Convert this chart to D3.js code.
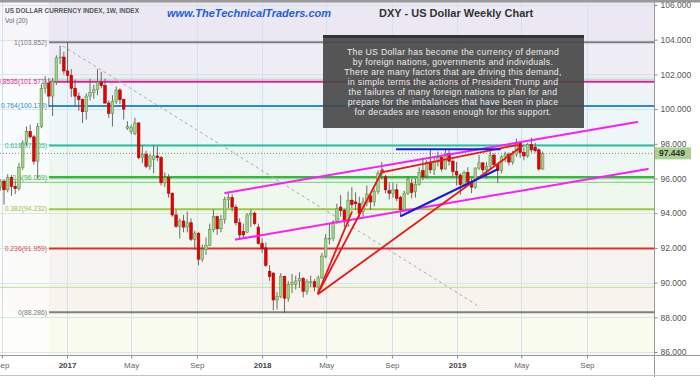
<!DOCTYPE html>
<html>
<head>
<meta charset="utf-8">
<script src="https://cdn.jsdelivr.net/npm/d3@7"></script>
<style>
  body { margin: 0; background: #fff; }
  svg { display: block; font-family: "Liberation Sans", Arial, sans-serif; }
</style>
</head>
<body>
<svg id="chart" width="700" height="377"></svg>
<script>
// ---- data ----
var firstWeek = "2016-08-29";   // weekly bars, one per Monday

var open = [95.50,95.85,95.35,96.05,95.55,95.42,96.65,98.05,98.70,98.40,
  97.00,99.00,101.20,101.50,100.75,101.60,102.95,103.00,102.20,101.95,
  101.20,100.75,100.55,99.85,100.75,100.95,101.12,101.55,101.35,100.35,
  99.75,100.45,101.10,100.55,98.90,98.70,98.60,99.20,97.20,97.40,
  96.70,97.10,97.30,97.20,95.75,96.05,95.15,93.90,93.25,93.55,
  93.20,93.45,92.50,92.85,91.35,91.90,92.15,93.05,93.80,93.10,
  93.65,94.80,94.90,94.35,93.45,92.95,92.90,93.90,94.00,93.20,
  92.25,92.00,90.65,90.55,89.00,89.20,90.35,89.10,89.90,89.90,
  90.10,90.25,89.50,90.00,90.05,89.75,90.27,91.50,92.55,92.55,
  93.55,94.35,94.15,93.55,94.75,94.65,94.55,94.10,94.60,95.00,
  94.65,95.25,96.30,96.10,95.30,95.15,95.35,94.90,94.20,95.15,
  95.70,95.25,95.65,96.45,96.15,96.95,96.50,96.95,97.20,96.55,
  97.45,97.00,96.40,96.20,95.65,96.35,95.80,95.50,96.60,96.90,
  96.50,96.70,97.35,96.80,96.45,97.25,97.40,96.95,97.40,98.05,
  97.50,97.30,97.95,97.80,97.65,96.55];

var high = [95.95,95.95,96.25,96.20,95.90,96.90,98.20,99.00,99.10,98.50,
  99.20,101.45,101.90,101.80,101.80,103.10,103.65,103.30,103.85,102.30,
  101.70,100.95,100.60,100.90,101.75,101.40,102.30,102.15,101.75,100.50,
  100.80,101.30,101.20,100.60,99.30,99.10,99.50,99.25,97.90,97.60,
  97.40,97.90,97.85,97.30,96.35,96.25,95.20,94.20,93.70,93.90,
  94.10,93.70,93.00,92.90,92.20,92.60,93.40,94.20,93.85,93.90,
  94.95,95.15,95.10,94.50,93.70,93.40,94.00,94.20,94.10,93.40,
  92.55,92.30,91.00,90.60,89.45,90.55,90.40,90.10,90.50,90.40,
  90.60,90.30,90.20,90.40,90.20,90.40,91.70,92.80,93.40,93.60,
  94.55,95.05,94.25,95.25,95.50,95.20,94.95,94.90,95.60,95.10,
  95.40,96.45,96.95,96.20,95.75,95.75,95.70,95.00,95.30,96.15,
  96.00,96.00,96.65,97.20,97.05,97.70,97.20,97.55,97.35,97.70,
  97.65,97.10,96.95,96.30,96.45,96.65,96.00,96.65,97.35,96.95,
  96.95,97.70,97.45,96.90,97.35,97.55,97.50,97.60,98.30,98.10,
  97.80,98.05,98.35,98.05,97.75,97.55];

var low = [95.30,94.50,95.20,95.00,95.10,95.30,96.50,97.90,98.30,96.80,
  96.00,98.90,100.90,100.10,99.60,101.40,102.60,102.00,101.50,100.70,
  100.20,99.90,99.20,99.40,100.50,100.60,100.80,101.20,100.30,99.50,
  99.00,100.30,100.30,99.40,98.80,98.55,98.50,97.10,96.90,96.60,
  96.50,96.30,97.00,95.60,95.50,94.90,93.80,93.15,92.55,92.90,
  92.90,92.40,91.90,91.00,91.20,91.60,92.10,92.90,92.75,92.90,
  93.40,94.30,94.10,93.30,92.50,92.60,92.85,93.20,93.30,92.20,
  91.70,90.90,90.10,88.40,88.45,89.10,88.25,88.90,89.40,89.60,
  89.70,89.15,89.30,89.75,89.50,89.40,90.20,91.40,92.20,92.40,
  93.40,93.80,93.20,93.20,94.30,94.20,93.70,93.80,94.40,94.20,
  94.40,95.10,95.95,95.15,94.80,94.90,94.70,93.85,94.10,95.05,
  94.85,94.90,95.60,95.90,96.00,96.30,96.20,96.70,96.40,96.50,
  96.75,96.10,95.60,95.05,95.50,95.70,95.15,95.40,96.50,96.30,
  96.00,96.50,96.70,95.75,96.30,96.95,96.75,96.80,97.25,97.20,
  97.05,97.20,97.50,97.50,96.45,96.50];

var close = [95.85,95.35,96.05,95.55,95.42,96.65,98.05,98.70,98.40,97.00,
  99.00,101.20,101.50,100.75,101.60,102.95,103.00,102.20,101.95,101.20,
  100.75,100.55,99.85,100.75,100.95,101.12,101.55,101.35,100.35,99.75,
  100.45,101.10,100.55,100.00,99.00,98.95,99.20,97.20,97.40,96.70,
  97.30,97.30,97.20,95.75,96.05,95.15,93.90,93.25,93.55,93.20,
  93.45,92.50,92.85,91.35,91.90,92.15,93.05,93.80,93.10,93.65,
  94.80,94.90,94.35,93.45,92.75,92.75,93.90,94.00,93.40,92.25,
  91.95,91.00,90.35,89.00,89.20,90.35,89.10,89.90,90.00,90.10,
  90.25,89.50,90.05,90.05,89.75,90.27,91.53,92.55,92.55,93.50,
  94.25,94.15,93.50,94.75,94.50,94.55,94.00,94.65,95.10,94.65,
  95.25,96.30,96.45,95.35,95.15,95.35,94.85,94.20,95.15,95.95,
  95.20,95.65,96.35,96.10,96.95,96.50,96.95,97.20,96.55,97.45,
  97.00,96.40,96.20,95.65,96.35,95.80,95.50,96.60,96.90,96.50,
  96.70,97.35,96.80,96.45,97.25,97.40,96.95,97.40,98.05,97.50,
  97.30,97.95,97.65,97.60,96.55,97.449];

var lastPrice = 97.449;

var priceTicks = [86, 88, 90, 92, 94, 96, 98, 100, 102, 104, 106];
var monthTicks = ["2016-09-01","2017-01-01","2017-05-01","2017-09-01","2018-01-01",
  "2018-05-01","2018-09-01","2019-01-01","2019-05-01","2019-09-01"];
var monthLabels = ["Sep","2017","May","Sep","2018","May","Sep","2019","May","Sep"];

var fibRatios = ["1", "0.8535", "0.764", "0.618", "0.5", "0.382", "0.236", "0"];
var fibValues = [103.852, 101.571, 100.178, 97.905, 96.069, 94.232, 91.959, 88.286];
var extraLevels = [101.72, 95.78, 89.72];

// trend lines drawn on the chart: [date, price] -> [date, price]
var channelLines = [
  [["2017-10-24", 95.16], ["2019-12-04", 99.26]],
  [["2017-11-13", 92.48], ["2019-12-24", 96.55]]
];
var redLines = [
  [["2018-04-16", 89.40], ["2018-06-18", 94.07]],
  [["2018-04-16", 89.40], ["2018-08-15", 96.49]],
  [["2018-04-16", 89.34], ["2019-05-03", 97.87]],
  [["2018-08-15", 96.37], ["2019-04-23", 97.93]]
];
var blueLines = [
  [["2018-09-10", 97.68], ["2019-03-22", 97.68]],
  [["2018-09-18", 93.84], ["2019-03-17", 96.52]]
];
var dashLine = [["2016-12-24", 103.64], ["2019-02-13", 88.59]];

var noteLines = [
  "The US Dollar has become the currency of demand",
  "by foreign nations, governments and individuals.",
  "There are many factors that are driving this demand,",
  "in simple terms the actions of President Trump and",
  "the failures of many foreign nations to plan for and",
  "prepare for the imbalances that have been in place",
  "for decades are reason enough for this support."
];

// ---- styles ----
var fibColors = ["#7f7f7f", "#e2238c", "#2a8ad6", "#27c29c", "#33bb33", "#9cc93a", "#d83232", "#7f7f7f"];
var fibTextColors = ["#7a7a7a", "#e2238c", "#2a8ad6", "#27b996", "#33b633", "#9cc238", "#d84a4a", "#7a7a7a"];
var extraColors = ["#a8dcc2", "#8fd68f", "#cde3a2"];
var bandEdges = [107, 103.852, 101.571, 100.178, 97.905, 96.069, 94.232, 91.959, 89.72, 88.286, 85];
var bandColors = ["#ebe8f3", "#eeecf5", "#eef3f8", "#edf6f8", "#edf7f1", "#eff8ec", "#f1f7ec", "#f4f3ef", "#f8f3ec", "#f9fbef"];

var plotR = 654, plotT = 2, plotB = 355, fibLeft = 49;

var parse = d3.utcParse("%Y-%m-%d");
var svg = d3.select("#chart");

var x = d3.scaleUtc()
    .domain([parse("2016-09-05"), parse("2019-06-10")])
    .range([4, 542.6]);
var y = d3.scaleLinear().domain([86, 106]).range([352, 5]);

var weeks = close.map(function (d, i) { return d3.utcDay.offset(parse(firstWeek), 7 * i); });

svg.append("rect").attr("width", 700).attr("height", 377).attr("fill", "#fff");

svg.append("clipPath").attr("id", "plotclip")
  .append("rect").attr("x", 0).attr("y", plotT).attr("width", plotR).attr("height", plotB - plotT);

var plot = svg.append("g").attr("clip-path", "url(#plotclip)");

// fib zone shading
for (var b = 0; b < bandColors.length; b++) {
  plot.append("rect")
    .attr("x", 0).attr("width", plotR)
    .attr("y", y(bandEdges[b]))
    .attr("height", y(bandEdges[b + 1]) - y(bandEdges[b]))
    .attr("fill", bandColors[b]);
}
plot.append("rect").attr("x", 0).attr("y", 0).attr("width", fibLeft).attr("height", plotB)
  .attr("fill", "#fff").attr("opacity", 0.62);

// grid
plot.selectAll(".hgrid").data(priceTicks).enter().append("line")
  .attr("x1", 0).attr("x2", plotR)
  .attr("y1", function (d) { return Math.round(y(d)) + 0.5; })
  .attr("y2", function (d) { return Math.round(y(d)) + 0.5; })
  .attr("stroke", "#d9e4ee").attr("stroke-width", 1);
plot.selectAll(".vgrid").data(monthTicks).enter().append("line")
  .attr("x1", function (d) { return Math.round(x(parse(d))) + 0.5; })
  .attr("x2", function (d) { return Math.round(x(parse(d))) + 0.5; })
  .attr("y1", plotT).attr("y2", plotB)
  .attr("stroke", "#d5e1ec").attr("stroke-width", 1);

// thin extra levels
extraLevels.forEach(function (v, i) {
  plot.append("line").attr("x1", 0).attr("x2", plotR)
    .attr("y1", y(v)).attr("y2", y(v))
    .attr("stroke", extraColors[i]).attr("stroke-width", 1.2);
});

// fib levels
fibValues.forEach(function (v, i) {
  plot.append("line").attr("x1", fibLeft).attr("x2", plotR)
    .attr("y1", y(v)).attr("y2", y(v))
    .attr("stroke", fibColors[i]).attr("stroke-width", i == 4 ? 2.4 : 2);
  plot.append("text")
    .attr("x", fibLeft - 2).attr("y", y(v) + 2.3)
    .attr("text-anchor", "end")
    .attr("font-size", "6.8px")
    .attr("fill", fibTextColors[i])
    .text(fibRatios[i] + "(" + v.toFixed(3) + ")");
});

// dashed diagonal
plot.append("line")
  .attr("x1", x(parse(dashLine[0][0]))).attr("y1", y(dashLine[0][1]))
  .attr("x2", x(parse(dashLine[1][0]))).attr("y2", y(dashLine[1][1]))
  .attr("stroke", "#aaa").attr("stroke-width", 1).attr("stroke-dasharray", "3,3");

// last price dotted line
plot.append("line").attr("x1", 0).attr("x2", plotR)
  .attr("y1", y(lastPrice)).attr("y2", y(lastPrice))
  .attr("stroke", "#888").attr("stroke-width", 1).attr("stroke-dasharray", "1,2");

// candles
var bw = 2.6;
var candle = plot.selectAll(".candle").data(close).enter().append("g");
candle.append("line")
  .attr("x1", function (d, i) { return x(weeks[i]); })
  .attr("x2", function (d, i) { return x(weeks[i]); })
  .attr("y1", function (d, i) { return y(high[i]); })
  .attr("y2", function (d, i) { return y(low[i]); })
  .attr("stroke", "#5a5a5a").attr("stroke-width", 0.9);
candle.append("rect")
  .attr("x", function (d, i) { return x(weeks[i]) - bw / 2; })
  .attr("width", bw)
  .attr("y", function (d, i) { return y(Math.max(open[i], close[i])); })
  .attr("height", function (d, i) { return Math.max(0.8, Math.abs(y(open[i]) - y(close[i]))); })
  .attr("fill", function (d, i) { return close[i] >= open[i] ? "#a6d08e" : "#e60000"; })
  .attr("stroke", function (d, i) { return close[i] >= open[i] ? "#5d9b47" : "#b00000"; })
  .attr("stroke-width", 0.6);

// trend lines
function drawLines(list, color, w) {
  list.forEach(function (l) {
    plot.append("line")
      .attr("x1", x(parse(l[0][0]))).attr("y1", y(l[0][1]))
      .attr("x2", x(parse(l[1][0]))).attr("y2", y(l[1][1]))
      .attr("stroke", color).attr("stroke-width", w).attr("stroke-linecap", "round");
  });
}
drawLines(channelLines, "#ff1aff", 2);
drawLines(redLines, "#f01414", 1.8);
drawLines(blueLines, "#1a1ae0", 2);

// note box
svg.append("rect").attr("x", 323).attr("y", 35).attr("width", 261).attr("height", 93)
  .attr("fill", "#464646").attr("opacity", 0.9);
svg.append("rect").attr("x", 323).attr("y", 35).attr("width", 261).attr("height", 3)
  .attr("fill", "#333");
svg.selectAll(".note").data(noteLines).enter().append("text")
  .attr("x", 453).attr("y", function (d, i) { return 54.5 + i * 10.05; })
  .attr("text-anchor", "middle")
  .attr("font-family", "'Liberation Sans', Arial, sans-serif")
  .attr("font-size", "8.7px")
  .attr("letter-spacing", "0.3px")
  .attr("fill", "#ececec")
  .text(function (d) { return d; });

// header
svg.append("text").attr("x", 5).attr("y", 13)
  .attr("font-size", "6.9px").attr("font-weight", "bold").attr("fill", "#555")
  .attr("textLength", 134).attr("lengthAdjust", "spacingAndGlyphs")
  .text("US DOLLAR CURRENCY INDEX, 1W, INDEX");
svg.append("text").attr("x", 5).attr("y", 22.5)
  .attr("font-size", "6.6px").attr("fill", "#666")
  .text("Vol (20)");
svg.append("text").attr("x", 167).attr("y", 17)
  .attr("font-size", "11px").attr("font-weight", "bold").attr("font-style", "italic")
  .attr("fill", "#1a5ee6")
  .text("www.TheTechnicalTraders.com");
svg.append("text").attr("x", 379).attr("y", 17)
  .attr("font-size", "11px").attr("font-weight", "bold").attr("fill", "#333")
  .text("DXY - US Dollar Weekly Chart");

// right axis
var yAxis = svg.append("g").attr("transform", "translate(" + (plotR + 0.5) + ",0)")
  .call(d3.axisRight(y).tickValues(priceTicks).tickFormat(d3.format(".3f")).tickSize(3).tickPadding(3));
yAxis.select(".domain").remove();
yAxis.selectAll("text").attr("font-size", "8.5px").attr("fill", "#555")
  .attr("font-family", "'Liberation Sans', Arial, sans-serif");
yAxis.selectAll("line").attr("stroke", "#888");

// bottom axis
var xAxis = svg.append("g").attr("transform", "translate(0," + (plotB + 0.5) + ")")
  .call(d3.axisBottom(x).tickValues(monthTicks.map(parse))
    .tickFormat(function (d, i) { return monthLabels[i]; })
    .tickSize(3).tickPadding(4));
xAxis.select(".domain").remove();
xAxis.selectAll("text")
  .attr("font-size", "8px")
  .attr("font-family", "'Liberation Sans', Arial, sans-serif")
  .attr("fill", function (d, i) { return /^\d/.test(monthLabels[i]) ? "#444" : "#666"; })
  .attr("font-weight", function (d, i) { return /^\d/.test(monthLabels[i]) ? "bold" : "normal"; });
xAxis.selectAll("line").attr("stroke", "#888");

// price tag
svg.append("rect").attr("x", plotR + 1).attr("y", y(lastPrice) - 6).attr("width", 36).attr("height", 12)
  .attr("fill", "#a9d18f");
svg.append("text").attr("x", plotR + 5).attr("y", y(lastPrice) + 3)
  .attr("font-size", "8.5px").attr("font-weight", "bold").attr("fill", "#333")
  .text(lastPrice.toFixed(3));

// frame
svg.append("rect").attr("x", 0).attr("y", 0).attr("width", 700).attr("height", 2.5).attr("fill", "#9a9a9a");
svg.append("line").attr("x1", plotR + 0.5).attr("x2", plotR + 0.5).attr("y1", 0).attr("y2", 377)
  .attr("stroke", "#999");
svg.append("line").attr("x1", 0).attr("x2", 700).attr("y1", plotB + 0.5).attr("y2", plotB + 0.5)
  .attr("stroke", "#999");
svg.append("line").attr("x1", 0).attr("x2", 700).attr("y1", 375.5).attr("y2", 375.5)
  .attr("stroke", "#c4c4c4");
</script>
</body>
</html>
